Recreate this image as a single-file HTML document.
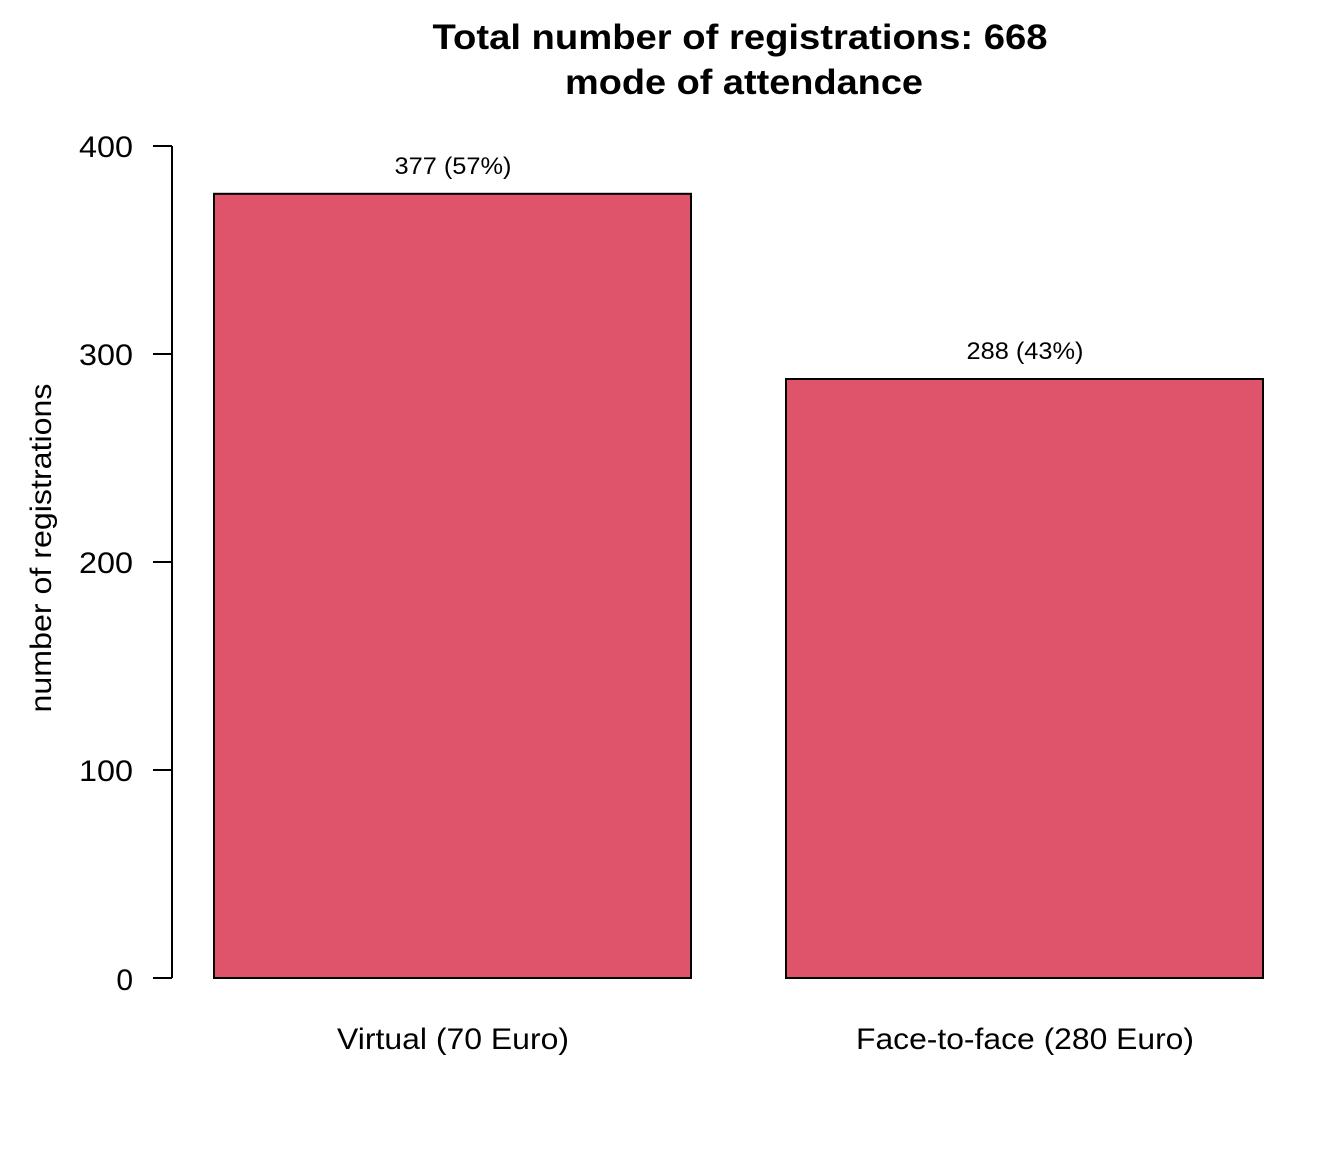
<!DOCTYPE html>
<html><head><style>body{margin:0;background:#fff}</style></head><body>
<svg width="1344" height="1152" xmlns="http://www.w3.org/2000/svg" font-family="Liberation Sans, Arial, sans-serif">
<rect width="1344" height="1152" fill="#fff"/>
<text x="740" y="49" font-size="35" font-weight="bold" text-anchor="middle" textLength="615" lengthAdjust="spacingAndGlyphs">Total number of registrations: 668</text>
<text x="744" y="94" font-size="35" font-weight="bold" text-anchor="middle" textLength="358" lengthAdjust="spacingAndGlyphs">mode of attendance</text>
<rect x="214" y="193.8" width="477" height="784.2" fill="#DF536B" stroke="#000" stroke-width="2"/>
<rect x="786" y="379" width="477" height="599" fill="#DF536B" stroke="#000" stroke-width="2"/>
<text x="453" y="174" font-size="24" text-anchor="middle" textLength="117" lengthAdjust="spacingAndGlyphs">377 (57%)</text>
<text x="1025" y="359" font-size="24" text-anchor="middle" textLength="117" lengthAdjust="spacingAndGlyphs">288 (43%)</text>
<g stroke="#000" stroke-width="2">
<line x1="172" y1="146" x2="172" y2="978"/>
<line x1="153" y1="146" x2="172" y2="146"/>
<line x1="153" y1="354" x2="172" y2="354"/>
<line x1="153" y1="562" x2="172" y2="562"/>
<line x1="153" y1="770" x2="172" y2="770"/>
<line x1="153" y1="978" x2="172" y2="978"/>
</g>
<g font-size="30" text-anchor="end">
<text x="133" y="157" textLength="54" lengthAdjust="spacingAndGlyphs">400</text>
<text x="133" y="365" textLength="54" lengthAdjust="spacingAndGlyphs">300</text>
<text x="133" y="573" textLength="54" lengthAdjust="spacingAndGlyphs">200</text>
<text x="133" y="781" textLength="54" lengthAdjust="spacingAndGlyphs">100</text>
<text x="133" y="990">0</text>
</g>
<text transform="translate(51,548) rotate(-90)" font-size="30" text-anchor="middle" textLength="329" lengthAdjust="spacingAndGlyphs">number of registrations</text>
<text x="453" y="1049" font-size="30" text-anchor="middle" textLength="232" lengthAdjust="spacingAndGlyphs">Virtual (70 Euro)</text>
<text x="1025" y="1049" font-size="30" text-anchor="middle" textLength="338" lengthAdjust="spacingAndGlyphs">Face-to-face (280 Euro)</text>
</svg>
</body></html>
